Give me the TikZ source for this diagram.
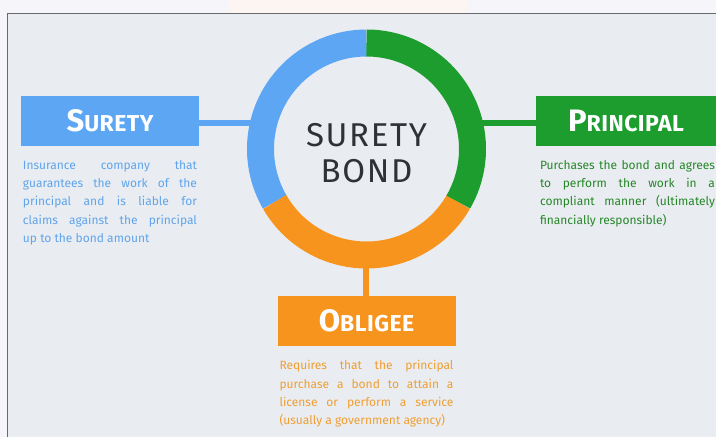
\documentclass[tikz,border=0pt]{standalone}
\usepackage{fontspec}
\setmainfont{Fira Sans}
\newfontfamily\titleFont[LetterSpace=5]{Fira Sans}
\newfontfamily\headFont[LetterSpace=2]{Fira Sans}
\usetikzlibrary{positioning}

\definecolor{pageWhite}{RGB}{246,246,250}
\definecolor{pagePeach}{RGB}{252,245,241}
\definecolor{panelGray}{RGB}{233,237,241}
\definecolor{frameGray}{RGB}{105,106,110}
\definecolor{titleGray}{RGB}{48,49,52}
\definecolor{suretyBlue}{RGB}{92,166,243}
\definecolor{principalGreen}{RGB}{28,157,46}
\definecolor{obligeeOrange}{RGB}{247,148,29}
\definecolor{suretyInk}{RGB}{96,164,236}
\definecolor{principalInk}{RGB}{38,134,40}
\definecolor{obligeeInk}{RGB}{240,158,50}

\newcommand{\boxTitle}[2]{{\headFont\bfseries\fontsize{31}{31}\selectfont #1\fontsize{23}{23}\selectfont #2}}

\begin{document}
\begin{tikzpicture}[x=1pt, y=1pt, font=\fontsize{12}{18.3}\selectfont]
	\tikzstyle{boxStyle}=[minimum width=178pt, minimum height=50pt, inner sep=0pt, text=white]
	\tikzstyle{descStyle}=[text width=174pt, align=justify, inner sep=0pt, anchor=north]
	\tikzstyle{linkStyle}=[line width=6pt]
	\tikzstyle{ringStyle}=[line width=27pt]

	\useasboundingbox (0,0) rectangle (716,437);
	\fill[pageWhite] (0,0) rectangle (716,437);
	\fill[pagePeach] (230,424) rectangle (467,437);
	\filldraw[fill=panelGray, draw=frameGray, line width=1.3pt] (7.5,-5) rectangle (730,423.5);

	\coordinate (ringC) at (366.5,288);
	\node[boxStyle, fill=suretyBlue] (surety) at (110,316) {\boxTitle{S}{URETY}};
	\node[boxStyle, fill=principalGreen, minimum width=180pt] (principal) at (626,316) {\boxTitle{P}{RINCIPAL}};
	\node[boxStyle, fill=obligeeOrange] (obligee) at (366.5,116) {\boxTitle{O}{BLIGEE}};

	\coordinate (ringW) at (262,314);
	\coordinate (ringE) at (471,314);
	\coordinate (ringS) at (366,185);
	\draw[linkStyle, suretyBlue] (surety.east |- ringW) -- (ringW);
	\draw[linkStyle, principalGreen] (principal.west |- ringE) -- (ringE);
	\draw[linkStyle, obligeeOrange] (obligee.north -| ringS) -- (ringS);

	\draw[ringStyle, suretyBlue] (ringC) ++(90:106) arc (90:210:106);
	\draw[ringStyle, obligeeOrange] (ringC) ++(210:106) arc (210:330:106);
	\draw[ringStyle, principalGreen] (ringC) ++(330:106) arc (330:450:106);

	\node[align=center, text=titleGray, font=\titleFont\fontsize{33}{36}\selectfont, yshift=-4pt] (bond) at (ringC) {SURETY\\BOND};

	\node[descStyle, text=suretyInk, below=14pt of surety] (suretyText) {Insurance company that\linebreak guarantees the work of the\linebreak principal and is liable for\linebreak claims against the principal\linebreak up to the bond amount};
	\node[descStyle, text=principalInk, text width=175pt, below=14pt of principal.south west, anchor=north west, xshift=4pt] (principalText) {Purchases the bond and agrees\linebreak to perform the work in a\linebreak compliant manner (ultimately\linebreak financially responsible)};
	\node[descStyle, text=obligeeInk, below=14pt of obligee] (obligeeText) {Requires that the principal\linebreak purchase a bond to attain a\linebreak license or perform a service\linebreak (usually a government agency)};
\end{tikzpicture}
\end{document}
